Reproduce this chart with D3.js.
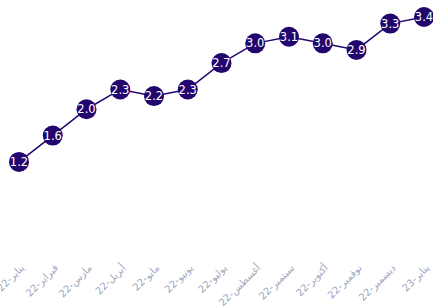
<!DOCTYPE html>
<html>
<head>
<meta charset="utf-8">
<script src="https://cdn.jsdelivr.net/npm/d3@7"></script>
<style>
  body { margin: 0; background: #fff; }
</style>
</head>
<body>
<div id="chart"></div>
<script>
// month labels and values
const months = ["يناير-22", "فبراير-22", "مارس-22", "أبريل-22", "مايو-22", "يونيو-22", "يوليو-22",
    "أغسطس-22", "سبتمبر-22", "أكتوبر-22", "نوفمبر-22", "ديسمبر-22", "يناير-23"];
const values = [1.2, 1.6, 2.0, 2.3, 2.2, 2.3, 2.7, 3.0, 3.1, 3.0, 2.9, 3.3, 3.4];

const width = 433, height = 307;
const color = "#22066e";

const svg = d3.select("#chart").append("svg")
    .attr("width", width)
    .attr("height", height);

// scales
const xScale = d3.scalePoint()
    .domain(months)
    .range([19, 424]);

const yScale = d3.scaleLinear()
    .domain([0, 3.4])
    .range([241, 17]);

// x axis labels
const xAxis = svg.append("g")
    .attr("transform", `translate(0,266)`)
    .call(d3.axisBottom(xScale).tickSize(0).tickPadding(0));
xAxis.select(".domain").remove();
xAxis.selectAll("text")
    .attr("font-family", "DejaVu Sans, sans-serif")
    .attr("font-size", 10)
    .attr("fill", "#a0a5bd")
    .attr("text-anchor", "end")
    .attr("dy", "0.35em")
    .attr("transform", "translate(3,0) rotate(-45)");

// line
const line = d3.line()
    .x((d, i) => xScale(months[i]))
    .y(d => yScale(d));

svg.append("path")
    .datum(values)
    .attr("fill", "none")
    .attr("stroke", color)
    .attr("stroke-width", 1.5)
    .attr("d", line);

// points
const pts = svg.selectAll(".pt")
    .data(values)
    .enter().append("g")
    .attr("class", "pt")
    .attr("transform", (d, i) => `translate(${xScale(months[i])},${yScale(d)})`);

pts.append("circle")
    .attr("r", 10)
    .attr("fill", color);

pts.append("text")
    .attr("text-anchor", "middle")
    .attr("dy", "0.36em")
    .attr("font-family", "DejaVu Sans, sans-serif")
    .attr("font-size", 11.5)
    .attr("fill", "#fff")
    .text(d => d.toFixed(1));
</script>
</body>
</html>
